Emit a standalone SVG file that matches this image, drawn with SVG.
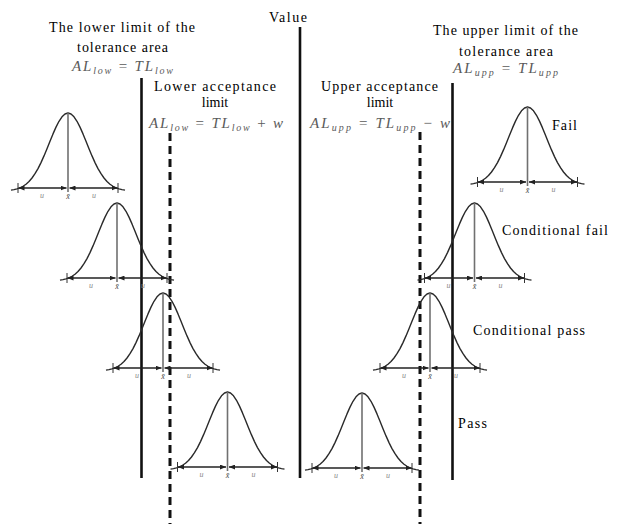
<svg xmlns="http://www.w3.org/2000/svg" xmlns:xlink="http://www.w3.org/1999/xlink" width="617" height="524" viewBox="0 0 617 524" font-family="Liberation Serif, serif">
<style>
  .t { font-size: 14px; fill: #000; text-anchor: middle; }
  .m { font-size: 15px; font-style: italic; fill: #5a5a5a; text-anchor: middle; }
  .m .r { font-style: normal; }
  .m .s { font-size: 10px; }
  .solid { stroke: #111; stroke-width: 2.6; fill: none; }
  .dash { stroke: #111; stroke-width: 3; fill: none; stroke-dasharray: 8 5; }
  .curve { stroke: #2a2a2a; stroke-width: 1.4; fill: none; stroke-linejoin: round; }
  .mid { stroke: #707070; stroke-width: 1.6; }
  .arr { stroke: #222; stroke-width: 1.3; marker-start: url(#ah); marker-end: url(#ah); }
  .tick { stroke: #333; stroke-width: 1; }
  .u { font-size: 8px; font-style: italic; fill: #8a8a8a; text-anchor: middle; }
  .x { font-size: 8px; font-style: italic; fill: #444; text-anchor: middle; }
</style>
<defs>
  <marker id="ah" viewBox="0 0 6 5" refX="6" refY="2.5" markerWidth="6" markerHeight="5" markerUnits="userSpaceOnUse" orient="auto-start-reverse">
    <path d="M0,0 L6,2.5 L0,5 z" fill="#222"/>
  </marker>
  <path id="bell" d="M-57,2.1 L-54,1.6 L-51,0.9 L-48,-0.2 L-45,-1.7 L-42,-3.8 L-39,-6.5 L-36,-10 L-33,-14.3 L-30,-19.4 L-27,-25.4 L-24,-32.1 L-21,-39.3 L-18,-46.8 L-15,-54.1 L-12,-60.9 L-9,-66.7 L-6,-71.2 L-3,-74 L0,-75 L3,-74 L6,-71.2 L9,-66.7 L12,-60.9 L15,-54.1 L18,-46.8 L21,-39.3 L24,-32.1 L27,-25.4 L30,-19.4 L33,-14.3 L36,-10 L39,-6.5 L42,-3.8 L45,-1.7 L48,-0.2 L51,0.9 L54,1.6 L57,2.1"/>
  <g id="dist">
    <use xlink:href="#bell" href="#bell" class="curve"/>
    <line class="mid" x1="0" y1="-75" x2="0" y2="4"/>
    <line class="arr" x1="-49.5" y1="0" x2="-1.5" y2="0"/>
    <line class="arr" x1="1.5" y1="0" x2="49.5" y2="0"/>
    <line class="tick" x1="-50" y1="-5" x2="-50" y2="5"/>
    <line class="tick" x1="50" y1="-5" x2="50" y2="5"/>
  </g>
</defs>

<g id="connectors">
  <line class="solid" x1="141.5" y1="78" x2="141.5" y2="478"/>
  <line class="dash" x1="170" y1="133" x2="170" y2="524"/>
  <line class="solid" x1="300" y1="27" x2="300" y2="478"/>
  <line class="dash" x1="420" y1="132" x2="420" y2="524"/>
  <line class="solid" x1="452.5" y1="83" x2="452.5" y2="480"/>
</g>

<g id="title-value">
  <text class="t" x="288" y="22" textLength="38" lengthAdjust="spacing">Value</text>
</g>

<g id="lower-tolerance-label">
  <text class="t" x="122" y="32" textLength="146" lengthAdjust="spacing">The lower limit of the</text>
  <text class="t" x="122.5" y="52" textLength="91" lengthAdjust="spacing">tolerance area</text>
  <text class="m" x="122.5" y="71" textLength="101" lengthAdjust="spacing">AL<tspan class="s" dy="3">low</tspan><tspan class="r" dy="-3"> = </tspan>TL<tspan class="s" dy="3">low</tspan></text>
</g>

<g id="lower-acceptance-label">
  <text class="t" x="215" y="91" textLength="122" lengthAdjust="spacing">Lower acceptance</text>
  <text class="t" x="215" y="107">limit</text>
  <text class="m" x="216" y="128" textLength="134" lengthAdjust="spacing">AL<tspan class="s" dy="3">low</tspan><tspan class="r" dy="-3"> = </tspan>TL<tspan class="s" dy="3">low</tspan><tspan class="r" dy="-3"> + </tspan>w</text>
</g>

<g id="upper-acceptance-label">
  <text class="t" x="379.5" y="91" textLength="117" lengthAdjust="spacing">Upper acceptance</text>
  <text class="t" x="380" y="107">limit</text>
  <text class="m" x="380" y="128" textLength="140" lengthAdjust="spacing">AL<tspan class="s" dy="3">upp</tspan><tspan class="r" dy="-3"> = </tspan>TL<tspan class="s" dy="3">upp</tspan><tspan class="r" dy="-3"> − </tspan>w</text>
</g>

<g id="upper-tolerance-label">
  <text class="t" x="505.5" y="35" textLength="145" lengthAdjust="spacing">The upper limit of the</text>
  <text class="t" x="506" y="56" textLength="94" lengthAdjust="spacing">tolerance area</text>
  <text class="m" x="505.5" y="73" textLength="105" lengthAdjust="spacing">AL<tspan class="s" dy="3">upp</tspan><tspan class="r" dy="-3"> = </tspan>TL<tspan class="s" dy="3">upp</tspan></text>
</g>

<g id="label-fail"><text class="t" x="564.5" y="130" textLength="25" lengthAdjust="spacing">Fail</text></g>
<g id="label-conditional-fail"><text class="t" x="555" y="235" textLength="106" lengthAdjust="spacing">Conditional fail</text></g>
<g id="label-conditional-pass"><text class="t" x="529" y="335" textLength="112" lengthAdjust="spacing">Conditional pass</text></g>
<g id="label-pass"><text class="t" x="472.5" y="428" textLength="29" lengthAdjust="spacing">Pass</text></g>

<g id="dist-lower-fail" transform="translate(68,188)">
  <use xlink:href="#dist" href="#dist"/>
  <text class="u" x="-26" y="10">u</text><text class="x" x="0" y="11">x̄</text><text class="u" x="26" y="10">u</text>
</g>
<g id="dist-lower-conditional-fail" transform="translate(117,278)">
  <use xlink:href="#dist" href="#dist"/>
  <text class="u" x="-26" y="10">u</text><text class="x" x="0" y="11">x̄</text><text class="u" x="26" y="10">u</text>
</g>
<g id="dist-lower-conditional-pass" transform="translate(163,368)">
  <use xlink:href="#dist" href="#dist"/>
  <text class="u" x="-26" y="10">u</text><text class="x" x="0" y="11">x̄</text><text class="u" x="26" y="10">u</text>
</g>
<g id="dist-lower-pass" transform="translate(227.5,467)">
  <use xlink:href="#dist" href="#dist"/>
  <text class="u" x="-26" y="10">u</text><text class="x" x="0" y="11">x̄</text><text class="u" x="26" y="10">u</text>
</g>
<g id="dist-upper-pass" transform="translate(362,468)">
  <use xlink:href="#dist" href="#dist"/>
  <text class="u" x="-26" y="10">u</text><text class="x" x="0" y="11">x̄</text><text class="u" x="26" y="10">u</text>
</g>
<g id="dist-upper-conditional-pass" transform="translate(430,368)">
  <use xlink:href="#dist" href="#dist"/>
  <text class="u" x="-26" y="10">u</text><text class="x" x="0" y="11">x̄</text><text class="u" x="26" y="10">u</text>
</g>
<g id="dist-upper-conditional-fail" transform="translate(474.5,278)">
  <use xlink:href="#dist" href="#dist"/>
  <text class="u" x="-26" y="10">u</text><text class="x" x="0" y="11">x̄</text><text class="u" x="26" y="10">u</text>
</g>
<g id="dist-upper-fail" transform="translate(527.5,182)">
  <use xlink:href="#dist" href="#dist"/>
  <text class="u" x="-26" y="10">u</text><text class="x" x="0" y="11">x̄</text><text class="u" x="26" y="10">u</text>
</g>
</svg>
